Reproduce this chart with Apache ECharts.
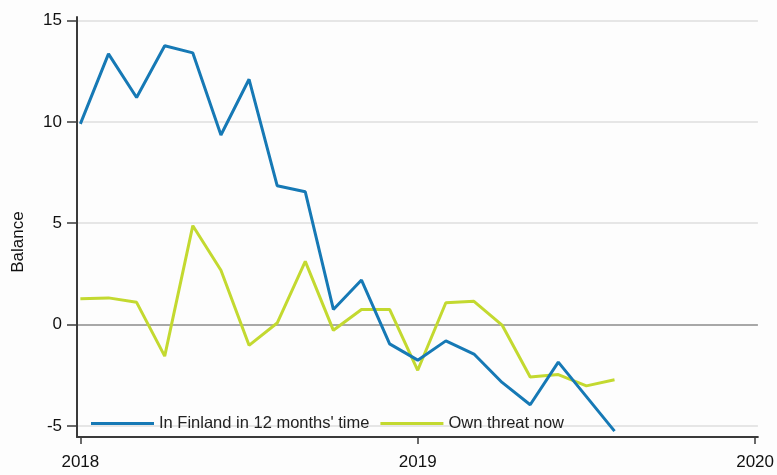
<!DOCTYPE html>
<html>
<head>
<meta charset="utf-8">
<script src="https://cdn.jsdelivr.net/npm/echarts@6/dist/echarts.min.js"></script>
<style>
  html, body { margin: 0; padding: 0; background: #fdfdfd; }
  #chart { width: 777px; height: 475px; }
</style>
</head>
<body>
<div id="chart"></div>
<script>
// monthly observations, Jan 2018 - Aug 2019
const months = [
  '2018-01', '2018-02', '2018-03', '2018-04', '2018-05', '2018-06', '2018-07', '2018-08', '2018-09', '2018-10',
  '2018-11', '2018-12', '2019-01', '2019-02', '2019-03', '2019-04', '2019-05', '2019-06', '2019-07', '2019-08'
]
const inFinland = [9.9, 13.35, 11.2, 13.75, 13.4, 9.35, 12.1, 6.85, 6.55, 0.75,
  2.2, -0.95, -1.75, -0.8, -1.45, -2.85, -3.95, -1.85, -3.55, -5.25]
const ownThreat = [1.28, 1.32, 1.1, -1.55, 4.88, 2.68, -1.02, 0.08, 3.12, -0.28,
  0.75, 0.75, -2.25, 1.08, 1.15, -0.02, -2.58, -2.46, -3.02, -2.72]
const yTicks = [-5, 0, 5, 10, 15]
const xTicks = [0, 12, 24] // months since Jan 2018
const seriesNames = ["In Finland in 12 months' time", 'Own threat now']

const font = "'Liberation Sans', Arial, sans-serif"

// month string -> months since Jan 2018
const toX = (m) => {
  const [y, mo] = m.split('-').map(Number)
  return (y - 2018) * 12 + (mo - 1)
}
const pairs = (vals) => months.map((m, i) => [toX(m), vals[i]])

const chart = echarts.init(document.getElementById('chart'))

chart.setOption({
  backgroundColor: '#fdfdfd',
  animation: false,
  grid: { left: 77, right: 18, top: 17, bottom: 38, containLabel: false },
  legend: {
    left: 86,
    top: 410,
    itemWidth: 63,
    itemHeight: 3,
    itemGap: 11,
    icon: 'rect',
    textStyle: { fontSize: 16.5, color: '#222', fontFamily: font },
    data: seriesNames,
  },
  graphic: [{
    type: 'text',
    x: 18,
    y: 242,
    rotation: Math.PI / 2,
    style: { text: 'Balance', fontSize: 17, fill: '#111', fontFamily: font, align: 'center', verticalAlign: 'middle' },
  }],
  xAxis: {
    type: 'value',
    min: -0.12,
    max: 24.1,
    axisLine: { show: true, onZero: false, lineStyle: { color: '#3a3a3a', width: 2 } },
    axisTick: { show: true, customValues: xTicks, length: 7, lineStyle: { color: '#3a3a3a', width: 1.5 } },
    axisLabel: {
      customValues: xTicks,
      margin: 17,
      fontSize: 17,
      color: '#111',
      fontFamily: font,
      formatter: (v) => String(2018 + v / 12),
    },
    splitLine: { show: false },
  },
  yAxis: {
    type: 'value',
    min: -5.54,
    max: 15.17,
    axisLine: { show: true, onZero: false, lineStyle: { color: '#3a3a3a', width: 2 } },
    axisTick: { show: true, customValues: yTicks, length: 10, lineStyle: { color: '#3a3a3a', width: 1.5 } },
    axisLabel: { customValues: yTicks, margin: 15, fontSize: 17, color: '#111', fontFamily: font },
    splitLine: {
      show: true,
      lineStyle: { color: ['#e6e6e6', '#a8a8a8', '#e6e6e6', '#e6e6e6', '#e6e6e6'], width: 2 },
    },
  },
  series: [
    {
      name: seriesNames[0],
      type: 'line',
      data: pairs(inFinland),
      symbol: 'none',
      color: '#1679b5',
      lineStyle: { width: 3, color: '#1679b5' },
      z: 3,
    },
    {
      name: seriesNames[1],
      type: 'line',
      data: pairs(ownThreat),
      symbol: 'none',
      color: '#c3d930',
      lineStyle: { width: 3, color: '#c3d930' },
      z: 2,
    },
  ],
})
</script>
</body>
</html>
